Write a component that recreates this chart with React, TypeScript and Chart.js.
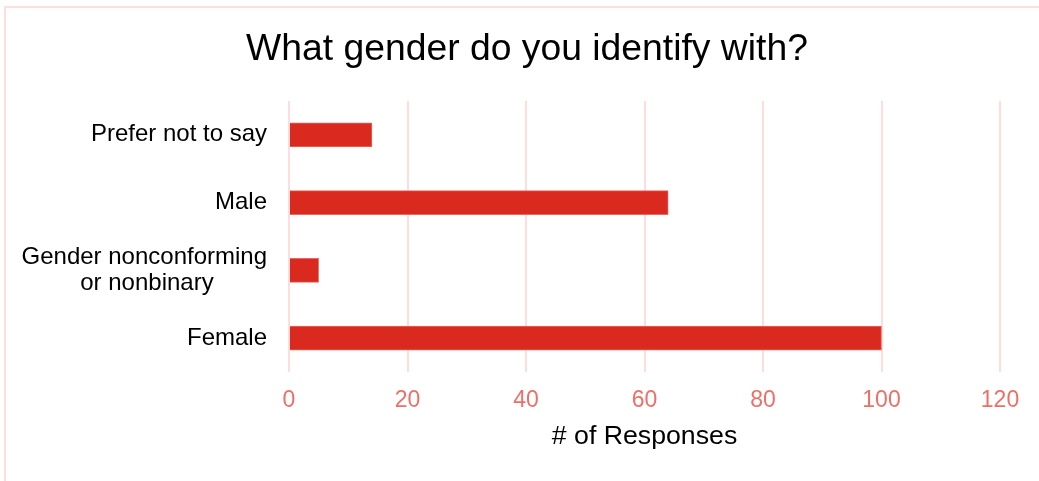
import React, { useEffect, useRef } from "react";
import { Chart, registerables } from "chart.js";

Chart.register(...registerables);

const titleText = "What gender do you identify with?";
const categories: (string | string[])[] = [
  "Prefer not to say",
  "Male",
  ["Gender nonconforming", "or nonbinary        "],
  "Female",
];
const responses = [14, 64, 5, 100];
const xTicksMax = 120;
const xAxisTitle = "# of Responses";

const FONT = "'Liberation Sans', Arial, sans-serif";

export default function App() {
  const ref = useRef<HTMLCanvasElement | null>(null);

  useEffect(() => {
    document.body.style.margin = "0";
    const chart = new Chart(ref.current!, {
      type: "bar",
      data: {
        labels: categories,
        datasets: [
          {
            data: responses,
            backgroundColor: "#DA291E",
            borderColor: "#E7695F",
            borderWidth: 1,
            barThickness: 24,
          },
        ],
      },
      options: {
        indexAxis: "y",
        animation: false,
        responsive: false,
        maintainAspectRatio: false,
        layout: { padding: { left: 20, right: 5, top: 0, bottom: 0 } },
        plugins: {
          legend: { display: false },
          tooltip: { enabled: false },
          title: {
            display: true,
            text: titleText,
            color: "#000",
            font: { family: FONT, size: 37.3, weight: "normal", lineHeight: 1.2 },
            padding: { top: 27, bottom: 29.2 },
          },
        },
        scales: {
          x: {
            min: 0,
            max: xTicksMax,
            ticks: {
              stepSize: 20,
              color: "#EC7068",
              font: { family: FONT, size: 23, lineHeight: 1.2 },
              padding: 15,
            },
            grid: { color: "#FDDEDC", lineWidth: 2, drawTicks: false },
            border: { display: false },
            title: {
              display: true,
              text: xAxisTitle,
              color: "#000",
              font: { family: FONT, size: 26.7, lineHeight: 1.2 },
              padding: { top: 4, bottom: 28 },
            },
            afterFit: (scale: any) => {
              scale.height = 109;
              scale.paddingRight = 39;
            },
          },
          y: {
            ticks: {
              color: "#000",
              font: { family: FONT, size: 24, lineHeight: 1.12 },
              padding: 22,
            },
            grid: { display: false, drawTicks: false },
            border: { display: false },
            afterFit: (scale: any) => {
              scale.width = 269;
            },
          },
        },
      },
    });
    return () => chart.destroy();
  }, []);

  return (
    <div style={{ position: "fixed", left: 0, top: 0, width: 1039, height: 481, overflow: "hidden", background: "#fff" }}>
      <div
        style={{
          position: "absolute",
          left: 4,
          top: 6,
          width: 1100,
          height: 600,
          border: "2px solid #FDE0DE",
          boxSizing: "border-box",
        }}
      />
      <canvas ref={ref} width={1039} height={481} style={{ position: "absolute", left: 0, top: 0, display: "block" }} />
    </div>
  );
}
